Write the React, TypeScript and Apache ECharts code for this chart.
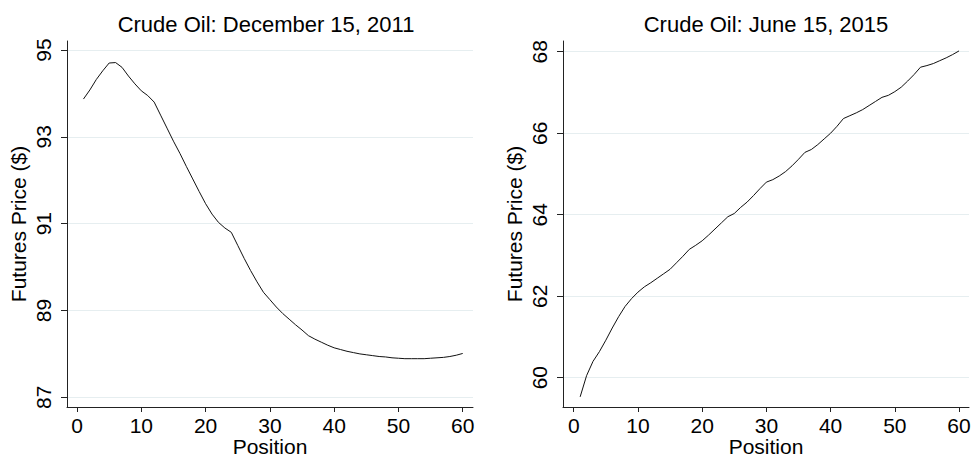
import React, { useEffect, useRef } from "react";
import * as echarts from "echarts";

const positions: number[] = Array.from({ length: 60 }, (_, i) => i + 1);

const dec2011: number[] = [
  93.87, 94.08, 94.32, 94.52, 94.7, 94.71, 94.6, 94.4, 94.22, 94.06,
  93.95, 93.8, 93.5, 93.2, 92.9, 92.62, 92.32, 92.03, 91.74, 91.46,
  91.22, 91.03, 90.9, 90.8, 90.5, 90.2, 89.92, 89.66, 89.42, 89.25,
  89.08, 88.93, 88.8, 88.67, 88.55, 88.42, 88.34, 88.27, 88.2, 88.14,
  88.1, 88.06, 88.03, 88.0, 87.98, 87.96, 87.94, 87.93, 87.91, 87.9,
  87.89, 87.89, 87.89, 87.89, 87.9, 87.91, 87.92, 87.94, 87.97, 88.01,
];

const jun2015: number[] = [
  59.53, 60.05, 60.4, 60.64, 60.92, 61.22, 61.5, 61.75, 61.94, 62.1,
  62.23, 62.33, 62.44, 62.55, 62.66, 62.82, 62.98, 63.15, 63.25, 63.36,
  63.5, 63.65, 63.8, 63.95, 64.03, 64.18, 64.31, 64.47, 64.64, 64.8,
  64.86, 64.95, 65.06, 65.2, 65.36, 65.53, 65.6, 65.72, 65.86, 66.0,
  66.17, 66.36, 66.43, 66.5, 66.58, 66.68, 66.78, 66.88, 66.93, 67.02,
  67.13, 67.28, 67.44, 67.62, 67.66, 67.71, 67.78, 67.85, 67.93, 68.02,
];

const xTicks: number[] = [0, 10, 20, 30, 40, 50, 60];
const yTicksLeft: number[] = [87, 89, 91, 93, 95];
const yTicksRight: number[] = [60, 62, 64, 66, 68];

const titles: string[] = ["Crude Oil: December 15, 2011", "Crude Oil: June 15, 2015"];
const xName = "Position";
const yName = "Futures Price ($)";

const FONT = "'Liberation Sans', Arial, Helvetica, sans-serif";
const AX_FS = 21;

export default function App() {
  const ref = useRef<HTMLDivElement>(null);

  useEffect(() => {
    if (!ref.current) return;
    const chart = echarts.init(ref.current, undefined, { renderer: "svg" });

    const axisLine = { show: true, lineStyle: { color: "#222", width: 1 } };
    const makeX = (gridIndex: number, min: number, max: number) => ({
      type: "value" as const,
      gridIndex,
      min,
      max,
      name: xName,
      nameLocation: "middle" as const,
      nameGap: 29,
      nameMoveOverlap: false,
      nameTextStyle: { fontFamily: FONT, fontSize: AX_FS, color: "#000", lineHeight: 21 },
      axisLine: { ...axisLine, onZero: false },
      axisTick: { show: true, length: 5, customValues: xTicks, lineStyle: { color: "#222" } },
      axisLabel: { customValues: xTicks, fontFamily: FONT, fontSize: AX_FS, color: "#000", margin: 8, lineHeight: 21 },
      splitLine: { show: false },
    });
    const makeY = (gridIndex: number, min: number, max: number, ticks: number[]) => ({
      type: "value" as const,
      gridIndex,
      min,
      max,
      name: yName,
      nameLocation: "middle" as const,
      nameGap: 38,
      nameMoveOverlap: false,
      nameTextStyle: { fontFamily: FONT, fontSize: AX_FS, color: "#000" },
      axisLine: { ...axisLine, onZero: false },
      axisTick: { show: true, length: 6, customValues: ticks, lineStyle: { color: "#222" } },
      axisLabel: { customValues: ticks, rotate: 90, fontFamily: FONT, fontSize: AX_FS, color: "#000", margin: 13 },
      splitLine: { show: true, lineStyle: { color: "#e6eef0", width: 1 } },
    });

    const titleStyle = { fontFamily: FONT, fontSize: 22, fontWeight: "normal", color: "#000" };

    chart.setOption({
      animation: false,
      backgroundColor: "#fff",
      title: [
        { text: titles[0], left: 266, top: 13, padding: 0, textAlign: "center", textStyle: titleStyle },
        { text: titles[1], left: 766, top: 13, padding: 0, textAlign: "center", textStyle: titleStyle },
      ],
      grid: [
        { left: 67, top: 41, width: 406, height: 366, containLabel: false, outerBoundsMode: "none" },
        { left: 563, top: 41, width: 406, height: 366, containLabel: false, outerBoundsMode: "none" },
      ],
      xAxis: [makeX(0, -1.56, 61.6), makeX(1, -1.67, 61.55)],
      yAxis: [
        makeY(0, 86.777, 95.207, yTicksLeft),
        makeY(1, 59.281, 68.263, yTicksRight),
      ],
      series: [
        {
          type: "line",
          xAxisIndex: 0,
          yAxisIndex: 0,
          data: positions.map((p, i) => [p, dec2011[i]]),
          showSymbol: false,
          symbol: "none",
          lineStyle: { color: "#111", width: 1 },
        },
        {
          type: "line",
          xAxisIndex: 1,
          yAxisIndex: 1,
          data: positions.map((p, i) => [p, jun2015[i]]),
          showSymbol: false,
          symbol: "none",
          lineStyle: { color: "#111", width: 1 },
        },
      ],
    });

    return () => chart.dispose();
  }, []);

  return (
    <div
      ref={ref}
      style={{ position: "fixed", left: 0, top: 0, width: 973, height: 458, background: "#fff" }}
    />
  );
}
